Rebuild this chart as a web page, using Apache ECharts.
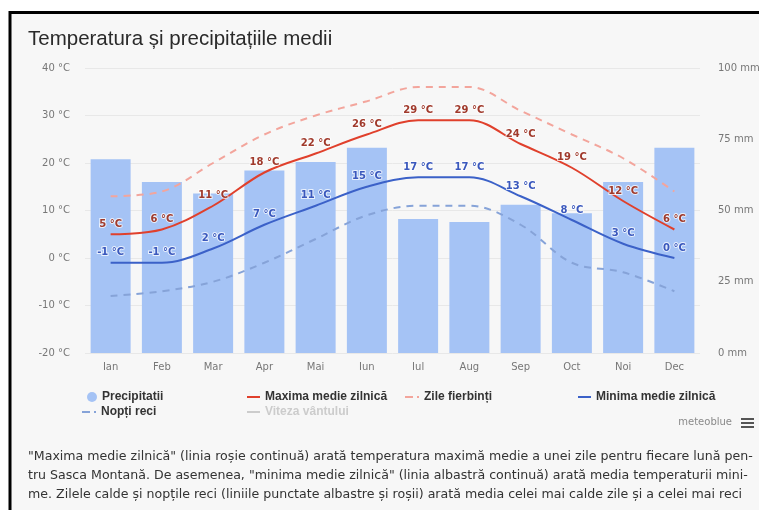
<!DOCTYPE html>
<html>
<head>
<meta charset="utf-8">
<script src="https://cdn.jsdelivr.net/npm/echarts@6/dist/echarts.min.js"></script>
<style>
  html, body { margin: 0; padding: 0; background: #fff; }
  #chart { width: 759px; height: 510px; }
</style>
</head>
<body>
<div id="chart"></div>
<script>
// Monthly climate values for Sasca Montană
const months = ['Ian', 'Feb', 'Mar', 'Apr', 'Mai', 'Iun', 'Iul', 'Aug', 'Sep', 'Oct', 'Noi', 'Dec'];
const precipitation = [68, 60, 56, 64, 67, 72, 47, 46, 52, 49, 60, 72];   // mm
const dailyMax = [5, 6, 11, 18, 22, 26, 29, 29, 24, 19, 12, 6];           // °C
const hotDays = [13, 14, 20, 26, 30, 33, 36, 36, 31, 26, 21, 14];         // °C
const dailyMin = [-1, -1, 2, 7, 11, 15, 17, 17, 13, 8, 3, 0];             // °C
const coldNights = [-8, -7, -5, -1, 4, 9, 11, 11, 7, -1, -3, -7];          // °C
const windSpeed = [];                                                     // hidden by default
const tempTicks = { min: -20, max: 40, step: 10 };
const rainTicks = { min: 0, max: 100, step: 25 };

const FONT = 'DejaVu Sans';
const LEGEND_FONT = 'Liberation Sans';
const chart = echarts.init(document.getElementById('chart'), null, { renderer: 'canvas' });

const descLines = [
  '"Maxima medie zilnică" (linia roșie continuă) arată temperatura maximă medie a unei zile pentru fiecare lună pen-',
  'tru Sasca Montană. De asemenea, "minima medie zilnică" (linia albastră continuă) arată media temperaturii mini-',
  'me. Zilele calde și nopțile reci (liniile punctate albastre și roșii) arată media celei mai calde zile și a celei mai reci'
];

// legend icons
const SOLID = 'path://M0,0H13V2H0Z';
const DASH_DOT = 'path://M0,0H8V2H0Z M12,0H14V2H12Z';

function legendItem(name, left, top, icon, w, h) {
  return {
    data: [name],
    left: left, top: top,
    orient: 'horizontal',
    icon: icon, itemWidth: w, itemHeight: h, itemGap: 0,
    inactiveColor: '#cccccc',
    selected: { 'Viteza vântului': false },
    textStyle: { fontFamily: LEGEND_FONT, fontSize: 12, fontWeight: 'bold', color: '#333' }
  };
}

const labelStyle = (color) => ({
  show: true, position: 'top', distance: 5,
  formatter: (p) => p.value + ' °C',
  fontFamily: FONT, fontSize: 10, fontWeight: 'bold', color: color,
  textBorderColor: 'rgba(255,255,255,0.75)', textBorderWidth: 2
});

const graphics = [
  { type: 'rect', z: -10, silent: true,
    shape: { x: 10, y: 12.5, width: 760, height: 510 },
    style: { fill: '#f7f7f7', stroke: '#000', lineWidth: 3 } },
  { type: 'text', left: 28, top: 29,
    style: { text: 'Temperatura și precipitațiile medii', font: 'normal 20.5px "Liberation Sans"', fill: '#2a2a2a' } },
  { type: 'text', right: 27, top: 417,
    style: { text: 'meteoblue', font: 'normal 10px ' + FONT, fill: '#8a8a8a' } }
];
// menu button (three bars)
[0, 4, 8].forEach(dy => graphics.push({
  type: 'rect', silent: true,
  shape: { x: 741, y: 418 + dy, width: 13, height: 2 },
  style: { fill: '#555' }
}));
descLines.forEach((t, i) => graphics.push({
  type: 'text', left: 28, top: 450 + i * 19,
  style: { text: t, font: 'normal 12.6px ' + FONT, fill: '#333' }
}));

chart.setOption({
  backgroundColor: '#ffffff',
  animation: false,
  textStyle: { fontFamily: FONT },
  graphic: graphics,
  grid: { left: 85, right: 59, top: 68, bottom: 157, containLabel: false, outerBoundsMode: 'none' },
  legend: [
    legendItem('Precipitatii', 82, 386, 'circle', 10, 10),
    legendItem('Maxima medie zilnică', 242, 386, SOLID, 13, 2),
    legendItem('Zile fierbinți', 400, 386, DASH_DOT, 14, 2),
    legendItem('Minima medie zilnică', 573, 386, SOLID, 13, 2),
    legendItem('Nopți reci', 77, 401, DASH_DOT, 14, 2),
    legendItem('Viteza vântului', 242, 401, SOLID, 13, 2)
  ],
  xAxis: {
    type: 'category', data: months,
    axisLine: { show: false }, axisTick: { show: false },
    axisLabel: { color: '#777', fontSize: 10, margin: 9 }
  },
  yAxis: [
    { type: 'value', min: tempTicks.min, max: tempTicks.max, interval: tempTicks.step,
      axisLabel: { formatter: '{value} °C', color: '#777', fontSize: 10, margin: 15 },
      splitLine: { lineStyle: { color: '#e8e8e8', width: 1 } } },
    { type: 'value', min: rainTicks.min, max: rainTicks.max, interval: rainTicks.step,
      position: 'right',
      axisLabel: { formatter: '{value} mm', color: '#777', fontSize: 10, margin: 18 },
      splitLine: { show: false } }
  ],
  series: [
    { name: 'Precipitatii', type: 'bar', yAxisIndex: 1, data: precipitation,
      barWidth: 40, itemStyle: { color: '#a5c3f5' }, z: 1 },
    { name: 'Maxima medie zilnică', type: 'line', data: dailyMax, smooth: 0.35,
      symbol: 'circle', symbolSize: 0, showSymbol: true,
      lineStyle: { color: '#e0402c', width: 2 }, itemStyle: { color: '#e0402c' },
      label: labelStyle('#a03a2c'), z: 5 },
    { name: 'Zile fierbinți', type: 'line', data: hotDays, smooth: 0.35,
      symbol: 'none', lineStyle: { color: '#f3a59c', width: 2, type: [7, 6] }, itemStyle: { color: '#f3a59c' }, z: 4 },
    { name: 'Minima medie zilnică', type: 'line', data: dailyMin, smooth: 0.35,
      symbol: 'circle', symbolSize: 0, showSymbol: true,
      lineStyle: { color: '#3b61c8', width: 2 }, itemStyle: { color: '#3b61c8' },
      label: labelStyle('#3a58bd'), z: 5 },
    { name: 'Nopți reci', type: 'line', data: coldNights, smooth: 0.35,
      symbol: 'none', lineStyle: { color: '#86a3d8', width: 2, type: [7, 6] }, itemStyle: { color: '#86a3d8' }, z: 4 },
    { name: 'Viteza vântului', type: 'line', data: windSpeed,
      symbol: 'none', lineStyle: { color: '#cccccc', width: 2 }, itemStyle: { color: '#cccccc' } }
  ]
});
</script>
</body>
</html>
